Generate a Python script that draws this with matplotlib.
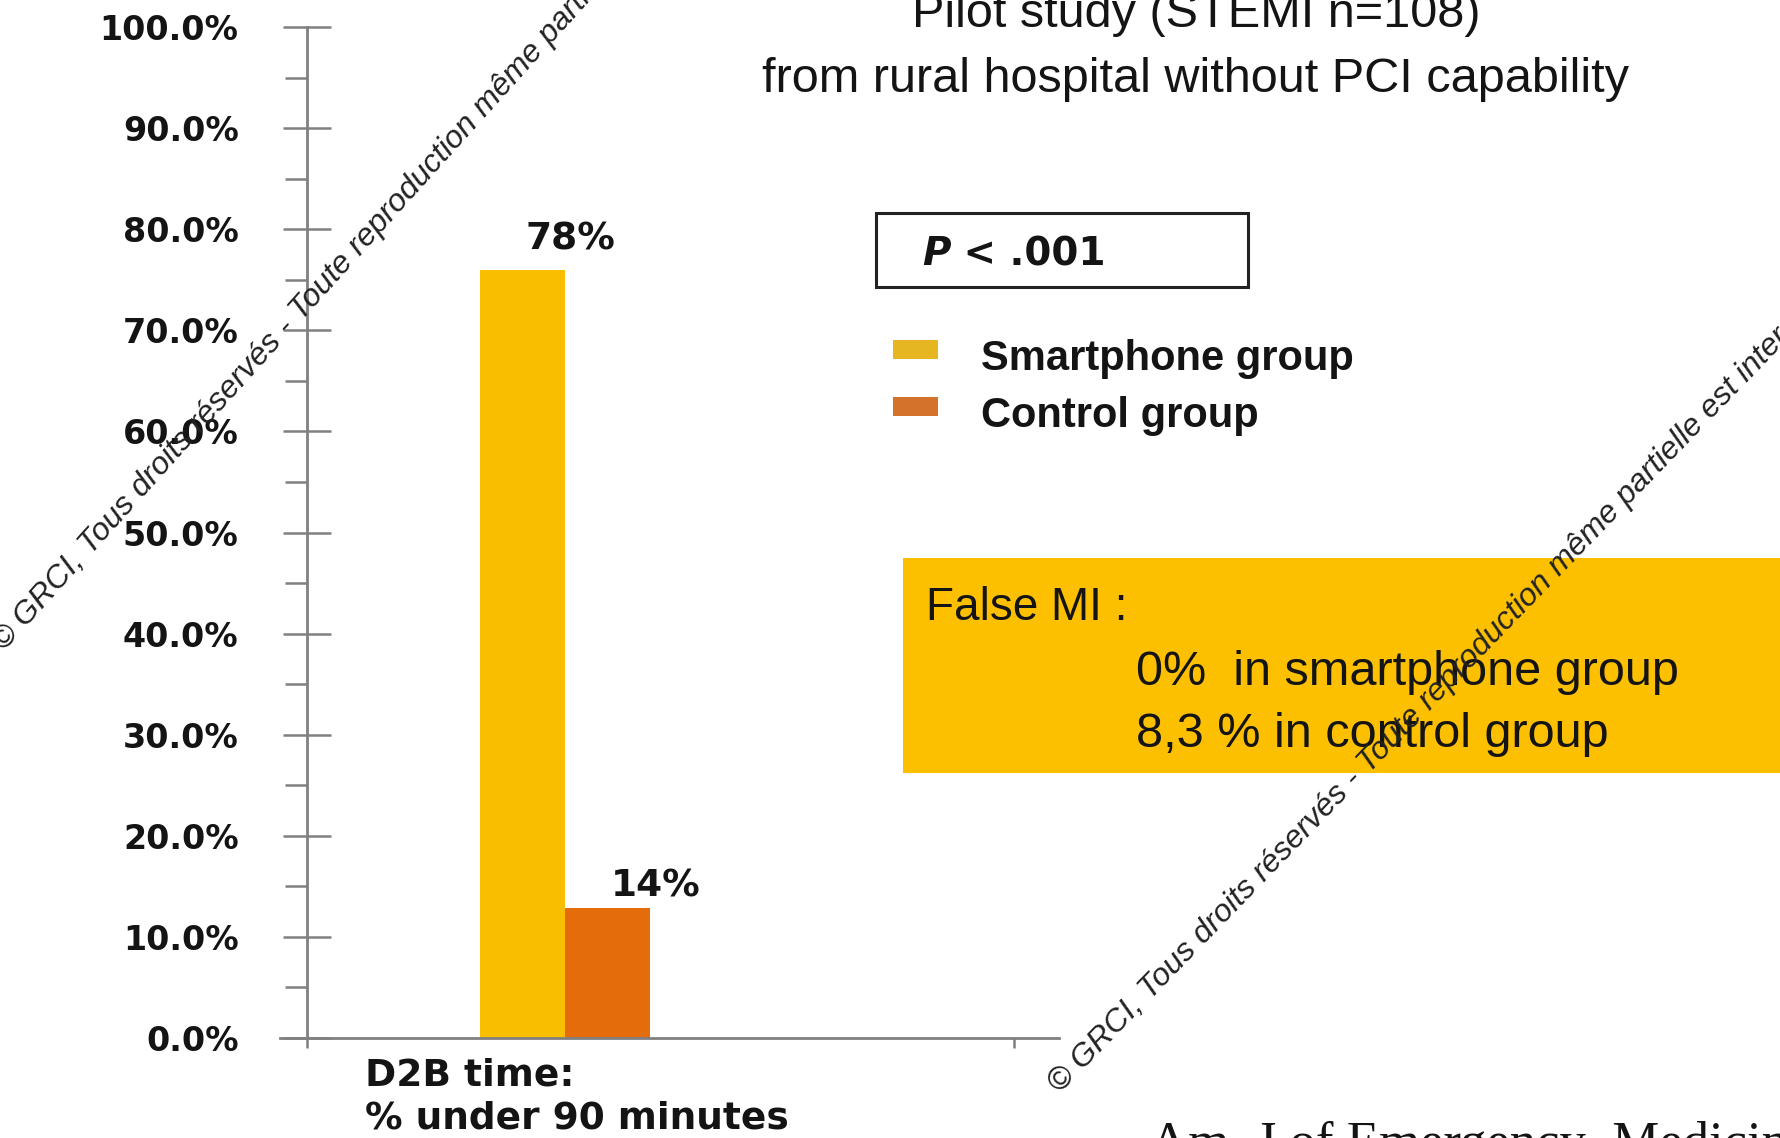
#!/usr/bin/env python
"""
Pilot study slide: D2B time under 90 minutes, smartphone vs control group.
"""

import matplotlib
matplotlib.use('Agg')
import matplotlib.pyplot as plt
from matplotlib.patches import Rectangle
from matplotlib.transforms import ScaledTranslation
import numpy as np

# ------------ DATA ----------------------------

groups = ['Smartphone group', 'Control group']
bar_heights = [76.0, 12.9]          # bar tops as drawn on the slide
label_values = [78, 14]             # printed values above the bars
bar_labels = ['78%', '14%']
bar_colors = ['#F9BE00', '#E46C0A']
legend_colors = ['#E6B522', '#D4712B']
category = 'D2B time:\n% under 90 minutes'
yticks = np.arange(0, 101, 10)
title_lines = ['Pilot study (STEMI n=108)', 'from rural hospital without PCI capability']
p_value = ('P', ' < .001')
false_mi = ['False MI :', '0%  in smartphone group', '8,3 % in control group']
citation = 'Am. J of Emergency  Medicine'
watermark = '\u00a9 GRCI, Tous droits r\u00e9serv\u00e9s - Toute reproduction m\u00eame partielle est interdite'

# ------------ LAYOUT HELPERS ----------------------------

W, H = 1781, 1138
SANS = ['Liberation Sans', 'DejaVu Sans']
WIDE = ['DejaVu Sans']
INK = '#141414'
GREY = '#808080'


def fx(px):
    return px / W


def fy(py):
    return 1 - py / H


fig = plt.figure(figsize=(W / 100, H / 100), dpi=100)
fig.patch.set_facecolor('white')

# ------------ BAR CHART ----------------------------

# y axis at x=307 px, right category edge at 1014 px, 0% at 1038 px, 100% at 27 px
ax = fig.add_axes([fx(307), fy(1038), fx(1014) - fx(307), fy(27) - fy(1038)])
ax.set_facecolor('none')
ax.set_xlim(-0.364, 0.633)
ax.set_ylim(0, 100)

width = 0.12
xpos = np.array([-width / 2, width / 2])
ax.bar(xpos, bar_heights, width=width, color=bar_colors, edgecolor='none', zorder=2)

for x, v, lab in zip(xpos, label_values, bar_labels):
    ax.text(x + 0.068, v, lab, ha='center', va='baseline', fontsize=27,
            fontweight='bold', family=WIDE, color=INK, zorder=3)

for side in ('top', 'right'):
    ax.spines[side].set_visible(False)
for side in ('left', 'bottom'):
    ax.spines[side].set_color(GREY)
    ax.spines[side].set_linewidth(2.0)
ax.spines['bottom'].set_bounds(-0.402, 0.697)

ax.set_yticks(yticks)
ax.set_yticklabels(['{:.1f}%'.format(v) for v in yticks])
ax.set_yticks(np.arange(5, 100, 10), minor=True)
ax.tick_params(axis='y', which='major', direction='inout', length=34.5, width=1.8,
               color=GREY, pad=32, labelsize=24, labelcolor=INK)
ax.tick_params(axis='y', which='minor', direction='out', length=16, width=1.8, color=GREY)
for t in ax.get_yticklabels():
    t.set_fontweight('bold')
    t.set_family(WIDE)

ax.set_xticks([0])
ax.set_xticklabels([category])
ax.set_xticks(list(ax.get_xlim()), minor=True)
ax.tick_params(axis='x', which='major', length=0, pad=14, labelsize=27, labelcolor=INK)
ax.tick_params(axis='x', which='minor', direction='out', length=7, width=1.8, color=GREY)
for t in ax.get_xticklabels():
    t.set_fontweight('bold')
    t.set_family(WIDE)
    t.set_horizontalalignment('left')
    t.set_multialignment('left')
    t.set_linespacing(1.25)
    t.set_transform(t.get_transform() + ScaledTranslation(-2.0, 0, fig.dpi_scale_trans))

# ------------ SLIDE TEXT ----------------------------

fig.text(fx(1196), fy(27), title_lines[0], ha='center', va='baseline',
         fontsize=35, family=SANS, color=INK)
fig.text(fx(1196), fy(92), title_lines[1], ha='center', va='baseline',
         fontsize=35, family=SANS, color=INK)

# p-value box
fig.add_artist(Rectangle((fx(876), fy(287)), fx(1248) - fx(876), fy(213) - fy(287),
                         transform=fig.transFigure, fill=False, lw=2.2, ec='#222222'))
p_txt = fig.text(fx(922), fy(265), p_value[0], ha='left', va='baseline', fontsize=28,
                 fontweight='bold', fontstyle='italic', family=WIDE, color=INK)
ax.annotate(p_value[1], xy=(1, 0), xycoords=p_txt, ha='left', va='bottom', fontsize=28,
            fontweight='bold', family=WIDE, color=INK, annotation_clip=False)

# legend swatches
for i, (name, col) in enumerate(zip(groups, legend_colors)):
    top = 340 + i * 57
    fig.add_artist(Rectangle((fx(893), fy(top + 19)), fx(938) - fx(893), fy(top) - fy(top + 19),
                             transform=fig.transFigure, fc=col, ec='none'))
    fig.text(fx(981), fy(top + 30), name, ha='left', va='baseline', fontsize=30,
             fontweight='bold', family=SANS, color=INK)

# false MI box
fig.add_artist(Rectangle((fx(903), fy(773)), fx(1800) - fx(903), fy(558) - fy(773),
                         transform=fig.transFigure, fc='#FDC000', ec='none', zorder=0))
fig.text(fx(926), fy(620), false_mi[0], ha='left', va='baseline', fontsize=33,
         family=SANS, color=INK)
fig.text(fx(1136), fy(685), false_mi[1], ha='left', va='baseline', fontsize=35,
         family=SANS, color=INK)
fig.text(fx(1136), fy(747), false_mi[2], ha='left', va='baseline', fontsize=35,
         family=SANS, color=INK)

# reference, cut by the slide edge
fig.text(fx(1150), fy(1158), citation, ha='left', va='baseline', fontsize=38,
         family=['Liberation Serif', 'DejaVu Serif'], color=INK)

# copyright stamps
fig.text(fx(4), fy(652), watermark, ha='left', va='baseline', rotation=48,
         rotation_mode='anchor', fontsize=23, fontstyle='italic', family=SANS,
         color='#222222', zorder=5)
fig.text(fx(1060), fy(1094), watermark, ha='left', va='baseline', rotation=46,
         rotation_mode='anchor', fontsize=23, fontstyle='italic', family=SANS,
         color='#222222', zorder=5)

fig.savefig('out.png', dpi=100)
